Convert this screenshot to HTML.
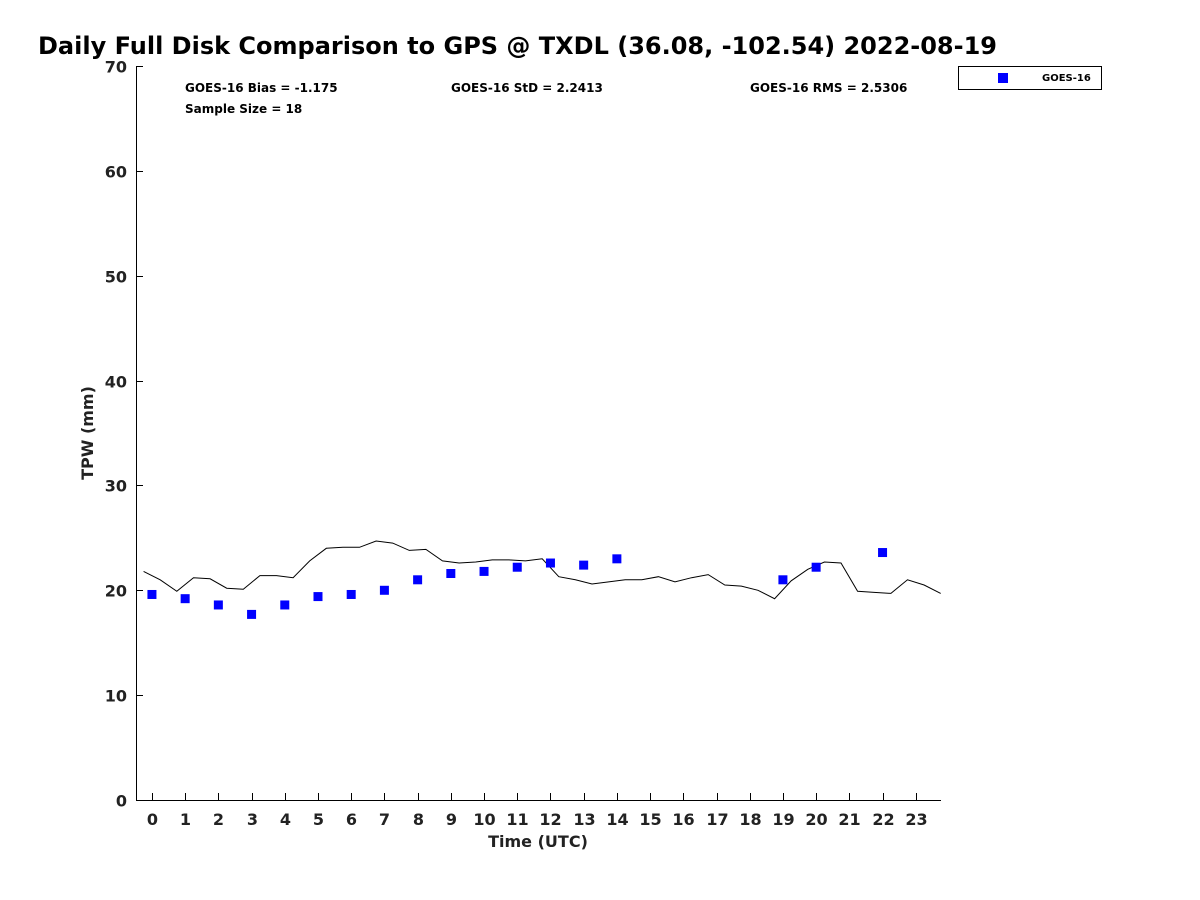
<!DOCTYPE html>
<html><head><meta charset="utf-8"><style>
body{margin:0;background:#fff;}
svg{display:block;font-family:"DejaVu Sans","Liberation Sans",sans-serif;}
</style></head><body>
<svg id="chart" width="1200" height="900">
<text x="38" y="54" font-size="24" font-weight="bold" fill="#000">Daily Full Disk Comparison to GPS @ TXDL (36.08, -102.54) 2022-08-19</text>
<g id="axes"></g>
<g id="marks"></g>
<text x="185" y="92" font-size="12" font-weight="bold">GOES-16 Bias = -1.175</text>
<text x="451" y="92" font-size="12" font-weight="bold">GOES-16 StD = 2.2413</text>
<text x="750" y="92" font-size="12" font-weight="bold">GOES-16 RMS = 2.5306</text>
<text x="185" y="113" font-size="12" font-weight="bold">Sample Size = 18</text>
<g>
<rect x="958.5" y="66.5" width="143" height="23" fill="#fff" stroke="#000" stroke-width="1"/>
<rect x="998" y="73" width="10" height="10" fill="#0000ff"/>
<text x="1042" y="81" font-size="10" font-weight="bold">GOES-16</text>
</g>
<text x="0" y="0" transform="translate(93,433) rotate(-90)" text-anchor="middle" font-size="16" font-weight="bold" fill="#222">TPW (mm)</text>
<text x="538" y="847" text-anchor="middle" font-size="16" font-weight="bold" fill="#222">Time (UTC)</text>
</svg>
<script>
const gpsValues=[21.8,21.0,19.9,21.2,21.1,20.2,20.1,21.4,21.4,21.2,22.8,24.0,24.1,24.1,24.7,24.5,23.8,23.9,22.8,22.6,22.7,22.9,22.9,22.8,23.0,21.3,21.0,20.6,20.8,21.0,21.0,21.3,20.8,21.2,21.5,20.5,20.4,20.0,19.2,20.9,22.0,22.7,22.6,19.9,19.8,19.7,21.0,20.5,19.7];
const gpsStart=-0.25, gpsStep=0.5;
const goesHours=[0,1,2,3,4,5,6,7,8,9,10,11,12,13,14,19,20,22];
const goesValues=[19.6,19.2,18.6,17.7,18.6,19.4,19.6,20.0,21.0,21.6,21.8,22.2,22.6,22.4,23.0,21.0,22.2,23.6];
const yTicks=[0,10,20,30,40,50,60,70];
const xTicks=[0,1,2,3,4,5,6,7,8,9,10,11,12,13,14,15,16,17,18,19,20,21,22,23];
const L=136,R=941,T=66,B=800,xMin=-0.48,xMax=23.76,yMin=0,yMax=70;
const X=v=>L+(v-xMin)/(xMax-xMin)*(R-L);
const Y=v=>B-(v-yMin)/(yMax-yMin)*(B-T);
const NS='http://www.w3.org/2000/svg';
function mk(tag,attrs,parent){const e=document.createElementNS(NS,tag);for(const k in attrs)e.setAttribute(k,attrs[k]);parent.appendChild(e);return e;}
const axes=document.getElementById('axes'),marks=document.getElementById('marks');
const ya=mk('line',{x1:L+.5,y1:T,x2:L+.5,y2:B,stroke:'#000'},axes);


const xa=mk('line',{x1:L,y1:B+.5,x2:R,y2:B+.5,stroke:'#000'},axes);


yTicks.forEach(v=>{const y=Math.round(Y(v))+.5;
mk('line',{x1:L,y1:y,x2:L+7,y2:y,stroke:'#000'},axes);
const t=mk('text',{x:L-9,y:y+6,'text-anchor':'end','font-size':16,'font-weight':'bold',fill:'#222'},axes);t.textContent=v;

});
xTicks.forEach(v=>{const x=Math.round(X(v))+.5;
mk('line',{x1:x,y1:B,x2:x,y2:B-7,stroke:'#000'},axes);
const t=mk('text',{x:x,y:B+25,'text-anchor':'middle','font-size':16,'font-weight':'bold',fill:'#222'},axes);t.textContent=v;

});
const pts=gpsValues.map((v,i)=>X(gpsStart+i*gpsStep).toFixed(1)+','+Y(v).toFixed(1)).join(' ');
const pl=mk('polyline',{points:pts,fill:'none',stroke:'#000','stroke-width':1},marks);


goesHours.forEach((h,i)=>{const r=mk('rect',{x:X(h)-4.5,y:Y(goesValues[i])-4.5,width:9,height:9,fill:'#0000ff'},marks);

});
</script>
</body></html>
